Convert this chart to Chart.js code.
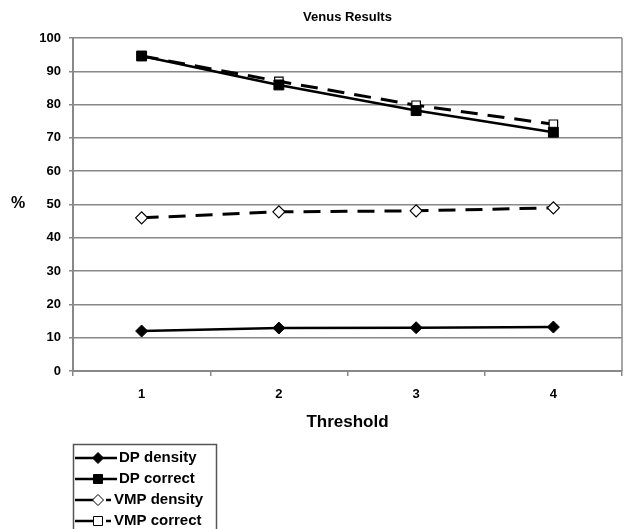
<!DOCTYPE html>
<html>
<head>
<meta charset="utf-8">
<script src="https://cdn.jsdelivr.net/npm/chart.js@4/dist/chart.umd.min.js"></script>
<style>
  html, body { margin: 0; padding: 0; background: #fff; }
  #wrap { width: 624px; height: 529px; }
</style>
</head>
<body>
<div id="wrap"><canvas id="line-chartcanvas" width="624" height="529"></canvas></div>
<script>
// values
var thresholds = ["1", "2", "3", "4"];
var dpDensity = [12, 12.9, 13, 13.2];
var dpCorrect = [94.6, 85.9, 78.2, 71.7];
var vmpDensity = [46, 47.8, 48.1, 49];
var vmpCorrect = [94.6, 87, 79.8, 74.1];
var seriesNames = ["DP density", "DP correct", "VMP density", "VMP correct"];

var ctx = document.getElementById("line-chartcanvas");
var fam = "Arial, 'Liberation Sans', sans-serif";

var data = {
    labels: thresholds,
    datasets: [
        {
            label: seriesNames[0],
            data: dpDensity,
            borderColor: "#000",
            backgroundColor: "#000",
            borderWidth: 2.5,
            pointStyle: "rectRot",
            pointRadius: 6,
            pointBorderWidth: 1,
            lineTension: 0
        },
        {
            label: seriesNames[1],
            data: dpCorrect,
            borderColor: "#000",
            backgroundColor: "#000",
            borderWidth: 2.5,
            pointStyle: "rect",
            pointRadius: 7,
            pointBorderWidth: 1,
            lineTension: 0
        },
        {
            label: seriesNames[2],
            data: vmpDensity,
            borderColor: "#000",
            backgroundColor: "#fff",
            borderWidth: 3,
            borderDash: [17, 10],
            pointStyle: "rectRot",
            pointRadius: 6,
            pointBorderWidth: 1.2,
            lineTension: 0
        },
        {
            label: seriesNames[3],
            data: vmpCorrect,
            borderColor: "#000",
            backgroundColor: "#fff",
            borderWidth: 3,
            borderDash: [17, 10],
            pointStyle: "rect",
            pointRadius: 6,
            pointBorderWidth: 1.2,
            lineTension: 0
        }
    ]
};

// legend box under the x axis, "%" label and right frame edge
var boxLegend = {
    id: "boxLegend",
    afterDraw: function(chart) {
        var c = chart.ctx;
        var ca = chart.chartArea;
        c.save();
        c.strokeStyle = "#555";
        c.lineWidth = 1.5;
        c.strokeRect(73.5, 444.5, 143, 100);
        c.font = "bold 15px " + fam;
        c.textBaseline = "middle";
        chart.data.datasets.forEach(function(ds, i) {
            var y = 458 + i * 21;
            c.strokeStyle = "#000";
            c.lineWidth = 2.5;
            c.setLineDash([]);
            if (ds.borderDash) {
                c.beginPath(); c.moveTo(75, y); c.lineTo(94, y); c.stroke();
                c.beginPath(); c.moveTo(106, y); c.lineTo(111, y); c.stroke();
            } else {
                c.beginPath(); c.moveTo(75, y); c.lineTo(117, y); c.stroke();
            }
            c.fillStyle = ds.backgroundColor;
            c.lineWidth = 1;
            c.beginPath();
            var r = 4.5;
            if (ds.pointStyle === "rect") {
                c.rect(98 - r, y - r, 2 * r, 2 * r);
            } else {
                c.moveTo(98, y - r - 1); c.lineTo(98 + r + 1, y); c.lineTo(98, y + r + 1); c.lineTo(98 - r - 1, y); c.closePath();
            }
            c.fill(); c.stroke();
            c.fillStyle = "#000";
            c.fillText(ds.label, ds.borderDash ? 114 : 119, y);
        });
        // "%" axis label, upright
        c.font = "bold 16px " + fam;
        c.textAlign = "center";
        c.fillText("%", 18, 204);
        // plot frame (right edge)
        c.strokeStyle = "#888";
        c.lineWidth = 1.5;
        c.beginPath();
        c.moveTo(ca.right, ca.top);
        c.lineTo(ca.right, ca.bottom);
        c.stroke();
        c.restore();
    }
};

var tickFont = { family: fam, size: 13, weight: "bold" };

var options = {
    responsive: false,
    animation: false,
    layout: { autoPadding: false, padding: { left: 0, right: 2, top: 0, bottom: 96 } },
    plugins: {
        legend: { display: false },
        tooltip: { enabled: false },
        title: {
            display: true,
            fullSize: false,
            text: "Venus Results",
            color: "#000",
            font: { family: fam, size: 13, weight: "bold" },
            padding: { top: 10, bottom: 12.4 },
            align: "center"
        }
    },
    scales: {
        x: {
            offset: true,
            grid: { offset: true, drawOnChartArea: false, drawTicks: true, tickLength: 5, color: "#888", lineWidth: 1.5 },
            border: { color: "#888", width: 2 },
            ticks: { color: "#000", font: tickFont, padding: 11 },
            title: {
                display: true,
                text: "Threshold",
                color: "#000",
                font: { family: fam, size: 17, weight: "bold" },
                padding: { top: 4, bottom: 0 }
            },
            afterFit: function(scale) {
                scale.height = 62;
                scale.paddingLeft = 0;
                scale.paddingRight = 0;
            }
        },
        y: {
            min: 0,
            max: 100,
            ticks: { stepSize: 10, color: "#000", font: tickFont, padding: 8 },
            grid: { color: "#888", lineWidth: 1.5, tickLength: 4 },
            border: { color: "#888", width: 2 },
            afterFit: function(scale) { scale.width = 73; }
        }
    }
};

var chart = new Chart(ctx, {
    type: "line",
    data: data,
    options: options,
    plugins: [boxLegend]
});
</script>
</body>
</html>
